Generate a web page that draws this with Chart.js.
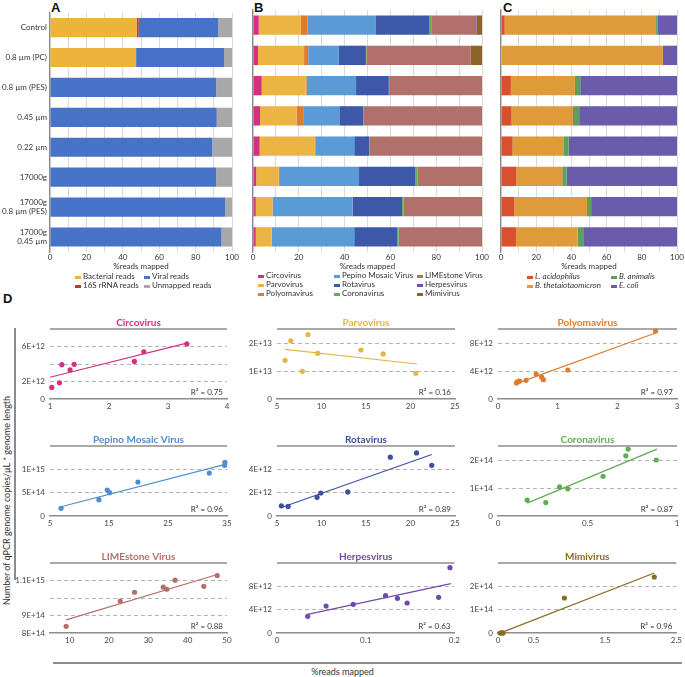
<!DOCTYPE html>
<html><head><meta charset="utf-8">
<script src="https://cdn.jsdelivr.net/npm/chart.js@4.4.1/dist/chart.umd.min.js"></script>
<style>
body{margin:0;background:#fff;width:685px;height:677px;position:relative;overflow:hidden;font-family:Lato,"Open Sans",sans-serif;}
canvas{position:absolute;}
.t{position:absolute;font-size:8px;color:#333;white-space:nowrap;line-height:9px;}
.m{position:absolute;width:6px;height:3px;}
.lab{position:absolute;font:bold 13px "Liberation Sans",Arial,sans-serif;color:#111;}
.ln{position:absolute;background:#8c8c8c;}
</style></head><body>
<div class="lab" style="left:51px;top:0px">A</div>
<div class="lab" style="left:254px;top:0px">B</div>
<div class="lab" style="left:503px;top:0px">C</div>
<div class="lab" style="left:3px;top:291px">D</div>
<div class="ln" style="left:14px;top:328px;width:1.5px;height:252px"></div>
<div class="ln" style="left:53px;top:662px;width:629px;height:1.5px"></div>
<div class="t" style="left:0;top:667px;width:685px;text-align:center;font-size:9px">%reads mapped</div>
<div class="t" style="left:-124px;top:496px;width:260px;text-align:center;font-size:9px;transform:rotate(-90deg)">Number of qPCR genome copies/μL * genome length</div>
<script>
// ---------- Panels A–C data ----------
const barCategories = ['Control', '0.8 µm (PC)', '0.8 µm (PES)', '0.45 µm', '0.22 µm', '17000g', ['17000g', '0.8 µm (PES)'], ['17000g', '0.45 µm']];

const bacterialReads = [47.6, 47.3, 0, 0, 0, 0, 0, 0];
const rRNA16SReads   = [1.1, 0, 0, 0, 0, 0, 0, 0];
const viralReads     = [43.7, 48.3, 91.3, 91.6, 89.1, 91.3, 96.2, 94.2];
const unmappedReads  = [7.6, 4.4, 8.7, 8.4, 10.9, 8.7, 3.8, 5.8];

const circovirusPct   = [2.5, 2.2, 3.8, 3.1, 2.9, 1.4, 1.2, 1.2];
const parvovirusPct   = [18.4, 20.1, 19.3, 15.9, 24.1, 9.8, 7.3, 6.9];
const polyomavirusPct = [2.9, 1.8, 0.3, 2.9, 0.4, 0.2, 0.1, 0.1];
const pepinoPct       = [29.9, 13.4, 21.6, 15.8, 16.8, 34.9, 34.9, 36.0];
const rotavirusPct    = [23.4, 11.8, 14.3, 10.5, 6.6, 24.5, 21.6, 18.7];
const coronavirusPct  = [1.0, 0.2, 0.5, 0.2, 0.2, 1.0, 0.7, 0.7];
const limestonePct    = [19.3, 45.6, 40.2, 51.6, 49.0, 28.2, 34.2, 36.4];
const herpesvirusPct  = [0.2, 0, 0, 0, 0, 0, 0, 0];
const mimivirusPct    = [2.4, 4.9, 0, 0, 0, 0, 0, 0];

const lAcidophilusPct = [2.1, 0, 5.6, 6.0, 6.6, 8.7, 7.5, 8.5];
const bThetaPct       = [86.0, 91.9, 36.4, 34.9, 28.8, 26.1, 41.3, 35.0];
const bAnimalisPct    = [1.0, 0, 3.0, 3.5, 3.0, 2.5, 2.4, 3.2];
const eColiPct        = [10.9, 8.1, 55.0, 55.6, 61.6, 62.7, 48.8, 53.3];

// ---------- Panel D data ----------
const circoX = [1.03, 1.16, 1.20, 1.34, 1.41, 2.43, 2.59, 3.32];
const circoY = [1.32e12, 1.85e12, 3.92e12, 3.32e12, 3.96e12, 4.3e12, 5.4e12, 6.3e12];
const circoFitX = [1.0, 3.32], circoFitY = [2.49e12, 6.38e12];
const circoXTicks = [1, 2, 3, 4];
const circoYTicks = [0, 2e12, 4e12, 6e12], circoYLabels = ['0', '2E+12', '', '6E+12'];

const parvoX = [5.91, 6.55, 7.84, 8.48, 9.58, 14.43, 16.93, 20.6];
const parvoY = [1.38e13, 2.08e13, 0.99e13, 2.30e13, 1.63e13, 1.75e13, 1.61e13, 0.92e13];
const parvoFitX = [5.91, 20.72], parvoFitY = [1.77e13, 1.25e13];
const parvoXTicks = [5, 10, 15, 20, 25];
const parvoYTicks = [0, 1e13, 2e13], parvoYLabels = ['0', '1E+13', '2E+13'];

const polyX = [0.31, 0.33, 0.36, 0.47, 0.64, 0.73, 0.76, 1.17, 2.64];
const polyY = [2.3e12, 2.5e12, 2.55e12, 2.67e12, 3.57e12, 3.14e12, 2.76e12, 4.14e12, 9.71e12];
const polyFitX = [0.305, 2.64], polyFitY = [2.19e12, 9.43e12];
const polyXTicks = [0, 1, 2, 3];
const polyYTicks = [0, 4e12, 8e12], polyYLabels = ['0', '4E+12', '8E+12'];

const pepinoX = [6.87, 13.3, 14.7, 15.1, 19.9, 32.0, 34.6, 34.65];
const pepinoY = [1.64e14, 3.5e14, 5.57e14, 5.0e14, 7.29e14, 9.2e14, 1.086e15, 1.15e15];
const pepinoFitX = [6.7, 34.7], pepinoFitY = [1.93e14, 1.107e15];
const pepinoXTicks = [5, 15, 25, 35];
const pepinoYTicks = [0, 5e14, 1e15], pepinoYLabels = ['0', '5E+14', '1E+15'];

const rotaX = [5.49, 6.25, 9.5, 9.92, 12.95, 17.73, 20.68, 22.39];
const rotaY = [0.87e12, 0.82e12, 1.6e12, 1.97e12, 2.06e12, 5.04e12, 5.41e12, 4.34e12];
const rotaFitX = [5.49, 22.39], rotaFitY = [0.73e12, 5.27e12];
const rotaXTicks = [5, 10, 15, 20, 25];
const rotaYTicks = [0, 2e12, 4e12], rotaYLabels = ['0', '2E+12', '4E+12'];

const coronaX = [0.163, 0.267, 0.344, 0.39, 0.587, 0.714, 0.727, 0.884];
const coronaY = [0.57e14, 0.48e14, 1.04e14, 0.97e14, 1.42e14, 2.15e14, 2.39e14, 2.0e14];
const coronaFitX = [0.163, 0.888], coronaFitY = [0.46e14, 2.39e14];
const coronaXTicks = [0, 0.5, 1];
const coronaYTicks = [0, 1e14, 2e14], coronaYLabels = ['0', '1E+14', '2E+14'];

const limeX = [9.1, 22.85, 26.5, 33.8, 34.7, 36.8, 44.1, 47.5];
const limeY = [8.38e14, 9.83e14, 10.33e14, 10.62e14, 10.5e14, 11.02e14, 10.67e14, 11.28e14];
const limeFitX = [9.1, 47.98], limeFitY = [8.75e14, 11.37e14];
const limeXTicks = [10, 20, 30, 40, 50];
const limeYTicks = [8e14, 9e14, 10e14, 11e14], limeYLabels = ['8E+14', '9E+14', '', '1.1E+15'];

const herpesX = [0.0346, 0.0553, 0.0859, 0.1224, 0.1358, 0.1467, 0.1822, 0.195];
const herpesY = [2.86e12, 4.63e12, 4.91e12, 6.4e12, 5.94e12, 5.14e12, 6.11e12, 11.2e12];
const herpesFitX = [0.0346, 0.196], herpesFitY = [3.2e12, 8.46e12];
const herpesXTicks = [0, 0.1, 0.2];
const herpesYTicks = [0, 4e12, 8e12], herpesYLabels = ['0', '4E+12', '8E+12'];

const mimiX = [0.03, 0.05, 0.06, 0.07, 0.93, 2.19];
const mimiY = [0, 0, 0.01e14, 0, 1.5e14, 2.4e14];
const mimiFitX = [0, 2.19], mimiFitY = [-0.04e14, 2.57e14];
const mimiXTicks = [0, 0.5, 1.5, 2.5];
const mimiYTicks = [0, 1e14, 2e14], mimiYLabels = ['0', '1E+14', '2E+14'];

// ---------- rendering ----------
const FONT = 'Lato, "Open Sans", sans-serif';
Chart.defaults.font.family = FONT;
Chart.defaults.font.size = 8;
Chart.defaults.color = '#333';

function mkCanvas(left, top, w, h) {
  const c = document.createElement('canvas');
  c.width = w; c.height = h;
  c.style.left = left + 'px'; c.style.top = top + 'px';
  c.style.width = w + 'px'; c.style.height = h + 'px';
  document.body.appendChild(c);
  return c;
}
function addText(txt, left, top, italic) {
  const d = document.createElement('div');
  d.className = 't'; d.textContent = txt;
  d.style.left = left + 'px'; d.style.top = top + 'px';
  if (italic) d.style.fontStyle = 'italic';
  document.body.appendChild(d);
}
function addLegend(name, color, x, yc, italic) {
  const m = document.createElement('div');
  m.className = 'm'; m.style.background = color;
  m.style.left = x + 'px'; m.style.top = (yc - 1.5) + 'px';
  document.body.appendChild(m);
  addText(name, x + 8, yc - 5, italic);
}

function barChart(canvas, series, showY, yWidth, padRight) {
  new Chart(canvas, {
    type: 'bar',
    data: {
      labels: barCategories,
      datasets: series.map(s => ({ label: s.name, data: s.data, backgroundColor: s.color, borderWidth: 0, barPercentage: 0.64, categoryPercentage: 1 }))
    },
    options: {
      indexAxis: 'y', responsive: false, animation: false,
      layout: { padding: { top: 10, right: padRight, left: 0, bottom: 0 } },
      plugins: { legend: { display: false }, tooltip: { enabled: false } },
      scales: {
        x: {
          stacked: true, min: 0, max: 100,
          ticks: { stepSize: 10, autoSkip: false, maxRotation: 0, padding: 1, callback: v => (Math.round(v) % 20 === 0 ? String(Math.round(v)) : '') },
          grid: { color: '#dadada', drawTicks: false, lineWidth: 1 },
          border: { display: false },
          title: { display: true, text: '%reads mapped', padding: { top: 0, bottom: 1 }, font: { size: 8 } },
          afterFit: s => { s.height = 20; }
        },
        y: {
          stacked: true,
          ticks: { display: showY, padding: 3, font: { size: 8 }, color: '#333' },
          grid: { display: false, drawTicks: false, tickLength: 0 },
          border: { color: '#8a8a8a', width: 1.2 },
          afterFit: s => { s.width = yWidth; }
        }
      }
    }
  });
}

const colA = { bact: '#EDB33B', r16: '#C9352B', viral: '#4673C5', unm: '#A8A8A8' };
const colB = { circo: '#D52F84', parvo: '#ECB443', poly: '#E07B2C', pepino: '#5B9BD5', rota: '#3D58A8', corona: '#5FAE52', lime: '#B2706A', herpes: '#7550A8', mimi: '#8B6428' };
const colC = { lac: '#D8502C', bth: '#DF9A3A', ban: '#5BA05B', eco: '#6B5CAB' };

barChart(mkCanvas(0, 0, 240, 272), [
  { name: 'Bacterial reads', data: bacterialReads, color: colA.bact },
  { name: '16S rRNA reads', data: rRNA16SReads, color: colA.r16 },
  { name: 'Viral reads', data: viralReads, color: colA.viral },
  { name: 'Unmapped reads', data: unmappedReads, color: colA.unm }
], true, 50, 7);

barChart(mkCanvas(245, 0, 245, 272), [
  { name: 'Circovirus', data: circovirusPct, color: colB.circo },
  { name: 'Parvovirus', data: parvovirusPct, color: colB.parvo },
  { name: 'Polyomavirus', data: polyomavirusPct, color: colB.poly },
  { name: 'Pepino Mosaic Virus', data: pepinoPct, color: colB.pepino },
  { name: 'Rotavirus', data: rotavirusPct, color: colB.rota },
  { name: 'Coronavirus', data: coronavirusPct, color: colB.corona },
  { name: 'LIMEstone Virus', data: limestonePct, color: colB.lime },
  { name: 'Herpesvirus', data: herpesvirusPct, color: colB.herpes },
  { name: 'Mimivirus', data: mimivirusPct, color: colB.mimi }
], false, 8, 8);

barChart(mkCanvas(493, 0, 192, 272), [
  { name: 'L. acidophilus', data: lAcidophilusPct, color: colC.lac },
  { name: 'B. thetaiotaomicron', data: bThetaPct, color: colC.bth },
  { name: 'B. animalis', data: bAnimalisPct, color: colC.ban },
  { name: 'E. coli', data: eColiPct, color: colC.eco }
], false, 8, 7);

// legends
addLegend('Bacterial reads', colA.bact, 75, 277);
addLegend('Viral reads', colA.viral, 144, 277);
addLegend('16S rRNA reads', colA.r16, 75, 286);
addLegend('Unmapped reads', colA.unm, 144, 286);

addLegend('Circovirus', colB.circo, 258, 276);
addLegend('Parvovirus', colB.parvo, 258, 285);
addLegend('Polyomavirus', colB.poly, 258, 294);
addLegend('Pepino Mosaic Virus', colB.pepino, 334, 276);
addLegend('Rotavirus', colB.rota, 334, 285);
addLegend('Coronavirus', colB.corona, 334, 294);
addLegend('LIMEstone Virus', colB.lime, 417, 276);
addLegend('Herpesvirus', colB.herpes, 417, 285);
addLegend('Mimivirus', colB.mimi, 417, 294);

addLegend('L. acidophilus', colC.lac, 527, 277, true);
addLegend('B. thetaiotaomicron', colC.bth, 527, 286, true);
addLegend('B. animalis', colC.ban, 611, 277, true);
addLegend('E. coli', colC.eco, 611, 286, true);

// scatter panels
const panelDecor = {
  id: 'panelDecor',
  beforeDatasetsDraw(chart, args, o) {
    const { ctx, chartArea: a } = chart;
    ctx.save();
    ctx.strokeStyle = '#8c8c8c'; ctx.lineWidth = 1.3;
    ctx.beginPath(); ctx.moveTo(a.left, a.top); ctx.lineTo(a.right, a.top); ctx.stroke();
    ctx.restore();
  },
  afterDraw(chart, args, o) {
    const { ctx, chartArea: a } = chart;
    ctx.save();
    ctx.fillStyle = o.color; ctx.font = 'bold 10px ' + FONT;
    ctx.textAlign = 'center'; ctx.textBaseline = 'middle';
    ctx.fillText(o.title, (a.left + a.right) / 2, a.top - 6);
    ctx.fillStyle = '#333'; ctx.font = '8px ' + FONT;
    ctx.textAlign = 'right';
    ctx.fillText('R² = ' + o.r2, a.right - 4, a.bottom - 7);
    ctx.restore();
  }
};

const panels = [
  { title: 'Circovirus', color: '#D52F84', xs: circoX, ys: circoY, fx: circoFitX, fy: circoFitY, r2: '0.75', xmin: 1, xmax: 4, xt: circoXTicks, ymin: 0, ymax: 8e12, yt: circoYTicks, yl: circoYLabels, col: 0, row: 0 },
  { title: 'Parvovirus', color: '#E6B547', xs: parvoX, ys: parvoY, fx: parvoFitX, fy: parvoFitY, r2: '0.16', xmin: 5, xmax: 25, xt: parvoXTicks, ymin: 0, ymax: 2.5e13, yt: parvoYTicks, yl: parvoYLabels, col: 1, row: 0 },
  { title: 'Polyomavirus', color: '#E07B2C', xs: polyX, ys: polyY, fx: polyFitX, fy: polyFitY, r2: '0.97', xmin: 0, xmax: 3, xt: polyXTicks, ymin: 0, ymax: 1e13, yt: polyYTicks, yl: polyYLabels, col: 2, row: 0 },
  { title: 'Pepino Mosaic Virus', color: '#4D8ED0', xs: pepinoX, ys: pepinoY, fx: pepinoFitX, fy: pepinoFitY, r2: '0.96', xmin: 5, xmax: 35, xt: pepinoXTicks, ymin: 0, ymax: 1.5e15, yt: pepinoYTicks, yl: pepinoYLabels, col: 0, row: 1 },
  { title: 'Rotavirus', color: '#3D4FA0', xs: rotaX, ys: rotaY, fx: rotaFitX, fy: rotaFitY, r2: '0.89', xmin: 5, xmax: 25, xt: rotaXTicks, ymin: 0, ymax: 6e12, yt: rotaYTicks, yl: rotaYLabels, col: 1, row: 1 },
  { title: 'Coronavirus', color: '#5FAE52', xs: coronaX, ys: coronaY, fx: coronaFitX, fy: coronaFitY, r2: '0.87', xmin: 0, xmax: 1, xt: coronaXTicks, ymin: 0, ymax: 2.5e14, yt: coronaYTicks, yl: coronaYLabels, col: 2, row: 1 },
  { title: 'LIMEstone Virus', color: '#B2706A', xs: limeX, ys: limeY, fx: limeFitX, fy: limeFitY, r2: '0.88', xmin: 5, xmax: 50, xt: limeXTicks, ymin: 8e14, ymax: 1.2e15, yt: limeYTicks, yl: limeYLabels, col: 0, row: 2 },
  { title: 'Herpesvirus', color: '#7049AA', xs: herpesX, ys: herpesY, fx: herpesFitX, fy: herpesFitY, r2: '0.63', xmin: 0, xmax: 0.2, xt: herpesXTicks, ymin: 0, ymax: 1.2e13, yt: herpesYTicks, yl: herpesYLabels, col: 1, row: 2 },
  { title: 'Mimivirus', color: '#8B6A22', xs: mimiX, ys: mimiY, fx: mimiFitX, fy: mimiFitY, r2: '0.96', xmin: 0, xmax: 2.5, xt: mimiXTicks, ymin: 0, ymax: 3e14, yt: mimiYTicks, yl: mimiYLabels, col: 2, row: 2 }
];

const plotLeft = [50, 277, 498], plotRight = [227, 455, 677], plotTop = [329, 446, 563];
const PH = 70, YW = 48, PADR = 8, TOPH = 20, XH = 16;

panels.forEach(p => {
  const pl = plotLeft[p.col], pr = plotRight[p.col], pt = plotTop[p.row];
  const cv = mkCanvas(pl - YW, pt - TOPH, pr - pl + YW + PADR, TOPH + PH + XH);
  new Chart(cv, {
    type: 'scatter',
    data: {
      datasets: [
        { type: 'scatter', data: p.xs.map((x, i) => ({ x, y: p.ys[i] })), backgroundColor: p.color, borderWidth: 0, pointRadius: 2.6, clip: false, order: 1 },
        { type: 'line', data: p.fx.map((x, i) => ({ x, y: p.fy[i] })), borderColor: p.color, borderWidth: 1.2, pointRadius: 0, fill: false, clip: false, order: 2 }
      ]
    },
    options: {
      responsive: false, animation: false,
      layout: { padding: { top: TOPH, right: PADR, left: 0, bottom: 0 } },
      plugins: { legend: { display: false }, tooltip: { enabled: false }, panelDecor: { title: p.title, color: p.color, r2: p.r2 } },
      scales: {
        x: {
          type: 'linear', min: p.xmin, max: p.xmax,
          afterBuildTicks: s => { s.ticks = p.xt.map(v => ({ value: v })); },
          ticks: { autoSkip: false, maxRotation: 0, padding: 3, font: { size: 8 }, color: '#444', callback: v => String(v) },
          grid: { display: false, drawTicks: false, tickLength: 0 },
          border: { display: true, color: '#8c8c8c', width: 1.5 },
          afterFit: s => { s.height = XH; }
        },
        y: {
          type: 'linear', min: p.ymin, max: p.ymax,
          afterBuildTicks: s => { s.ticks = p.yt.map(v => ({ value: v })); },
          ticks: { autoSkip: false, padding: 5, font: { size: 8 }, color: '#444', callback: (v, i) => p.yl[i] },
          grid: { drawTicks: false, tickLength: 0, lineWidth: 1, color: c => (c.tick && c.tick.value === p.ymin ? 'rgba(0,0,0,0)' : '#b5b5b5') },
          border: { display: false, dash: [4, 3] },
          afterFit: s => { s.width = YW; }
        }
      }
    },
    plugins: [panelDecor]
  });
});
</script>
</body></html>
